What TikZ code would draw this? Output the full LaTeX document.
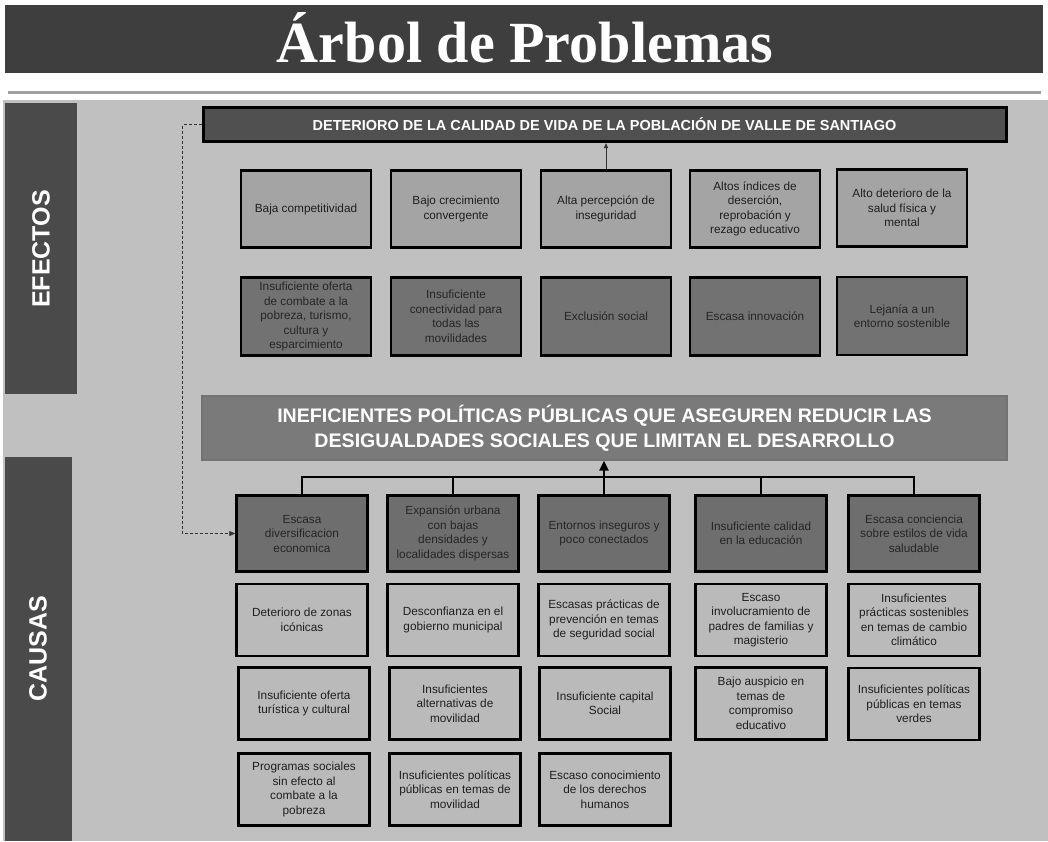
\documentclass[tikz,border=0pt]{standalone}
\usepackage{fontspec}
\setmainfont{Liberation Sans}
\newfontfamily\titlefont{Liberation Serif}
\usetikzlibrary{arrows.meta}
\definecolor{bgc}{HTML}{C0C0C0}
\definecolor{bandc}{HTML}{3E3E3E}
\definecolor{barc}{HTML}{4A4A4A}
\definecolor{topc}{HTML}{505050}
\definecolor{corec}{HTML}{7A7A7A}
\definecolor{effA}{HTML}{A4A4A4}
\definecolor{effB}{HTML}{727272}
\definecolor{cauA}{HTML}{6E6E6E}
\definecolor{cauB}{HTML}{BABABA}
\begin{document}
\begin{tikzpicture}[x=1pt,y=-1pt,
  box/.style={draw=black, line width=2.4pt, align=center, inner sep=1pt,
    font=\fontsize{11.8}{14.5}\selectfont},
  efA/.style={box, fill=effA, text=black!88, minimum width=130pt, minimum height=77pt},
  efB/.style={box, fill=effB, text=black!85, minimum width=130pt, minimum height=78pt},
  caA/.style={box, fill=cauA, text=black!85, minimum width=131pt, minimum height=76pt},
  caB/.style={box, fill=cauB, text=black!88, minimum width=131pt, minimum height=72pt},
  sidelabel/.style={rotate=90, text=white, font=\bfseries\fontsize{25}{25}\selectfont},
  busline/.style={draw=black, line width=2.6pt},
  link/.style={draw=black!80, line width=0.8pt}
]
\useasboundingbox (0,0) rectangle (1048,841);
\fill[white] (0,0) rectangle (1048,841);
% background
\fill[bgc] (3,100) rectangle (1048,841);
% title band
\fill[bandc] (5,5) rectangle (1043,73);
\node[text=white, inner sep=0] (title) at (525,38)
  {\resizebox{496pt}{50pt}{\titlefont\bfseries Árbol de Problemas}};
\draw[gray!75, line width=3pt] (8,92) -- (1041,92);
% side bars
\fill[barc] (5,103) rectangle (77,394);
\node[sidelabel] (lef) at (41,249) {EFECTOS};
\fill[barc] (5,457) rectangle (72,841);
\node[sidelabel] (lca) at (38,649) {CAUSAS};
% top effect
\node[draw=black, line width=3pt, fill=topc, text=white,
  minimum width=803pt, minimum height=34pt,
  font=\bfseries\fontsize{14.5}{14.5}\selectfont] (top) at (604.5,124.5)
  {DETERIORO DE LA CALIDAD DE VIDA DE LA POBLACIÓN DE VALLE DE SANTIAGO};
% effects row 1
\node[efA] (e1) at (306,209) {Baja competitividad};
\node[efA] (e2) at (456,209) {Bajo crecimiento\\convergente};
\node[efA] (e3) at (606,209) {Alta percepción de\\inseguridad};
\node[efA] (e4) at (755,209) {Altos índices de\\deserción,\\reprobación y\\rezago educativo};
\node[efA] (e5) at (902,208) {Alto deterioro de la\\salud física y\\mental};
% effects row 2
\node[efB] (f1) at (306,316.5) {Insuficiente oferta\\de combate a la\\pobreza, turismo,\\cultura y\\esparcimiento};
\node[efB] (f2) at (456,316.5) {Insuficiente\\conectividad para\\todas las\\movilidades};
\node[efB] (f3) at (606,316.5) {Exclusión social};
\node[efB] (f4) at (755,316.5) {Escasa innovación};
\node[efB] (f5) at (902,316) {Lejanía a un\\entorno sostenible};
\draw[link, -{Triangle[length=5pt,width=4pt]}] (e3.north) -- (e3.north |- top.south);
% core problem
\node[draw=black!55, line width=1.2pt, fill=corec, text=white,
  minimum width=805pt, minimum height=64pt, align=center,
  font=\bfseries\fontsize{19.6}{25}\selectfont] (core) at (604.5,428)
  {INEFICIENTES POLÍTICAS PÚBLICAS QUE ASEGUREN REDUCIR LAS\\DESIGUALDADES SOCIALES QUE LIMITAN EL DESARROLLO};
% causes row 1
\node[caA] (c1) at (302,533.5) {Escasa\\diversificacion\\economica};
\node[caA] (c2) at (453,533.5) {Expansión urbana\\con bajas\\densidades y\\localidades dispersas};
\node[caA] (c3) at (604,533.5) {Entornos inseguros y\\poco conectados};
\node[caA] (c4) at (761,533.5) {Insuficiente calidad\\en la educación};
\node[caA] (c5) at (914,533.5) {Escasa conciencia\\sobre estilos de vida\\saludable};
% causes row 2
\node[caB] (d1) at (302,620) {Deterioro de zonas\\icónicas};
\node[caB] (d2) at (453,620) {Desconfianza en el\\gobierno municipal};
\node[caB] (d3) at (604,620) {Escasas prácticas de\\prevención en temas\\de seguridad social};
\node[caB] (d4) at (761,620) {Escaso\\involucramiento de\\padres de familias y\\magisterio};
\node[caB] (d5) at (914,620) {Insuficientes\\prácticas sostenibles\\en temas de cambio\\climático};
% causes row 3
\node[caB] (g1) at (304,703.5) {Insuficiente oferta\\turística y cultural};
\node[caB] (g2) at (455,703.5) {Insuficientes\\alternativas de\\movilidad};
\node[caB] (g3) at (605,703.5) {Insuficiente capital\\Social};
\node[caB] (g4) at (761,703.5) {Bajo auspicio en\\temas de\\compromiso\\educativo};
\node[caB] (g5) at (914,704) {Insuficientes políticas\\públicas en temas\\verdes};
% causes row 4
\node[caB] (h1) at (304,789.5) {Programas sociales\\sin efecto al\\combate a la\\pobreza};
\node[caB] (h2) at (455,789.5) {Insuficientes políticas\\públicas en temas de\\movilidad};
\node[caB] (h3) at (605,789.5) {Escaso conocimiento\\de los derechos\\humanos};
% bus
\coordinate (bus) at (604,477);
\draw[busline] (c1.north) -- (c1.north |- bus) -- (c5.north |- bus) -- (c5.north);
\draw[busline] (c2.north) -- (c2.north |- bus);
\draw[busline] (c4.north) -- (c4.north |- bus);
\draw[busline, -{Triangle[length=10pt,width=9pt]}] (c3.north) -- (c3.north |- core.south);
% dashed link
\draw[draw=black!80, line width=0.8pt, dash pattern=on 3pt off 2pt,
  -{Triangle[length=6pt,width=5pt]}] (top.west) -- ++(-19,0) |- (c1.west);
\end{tikzpicture}
\end{document}
